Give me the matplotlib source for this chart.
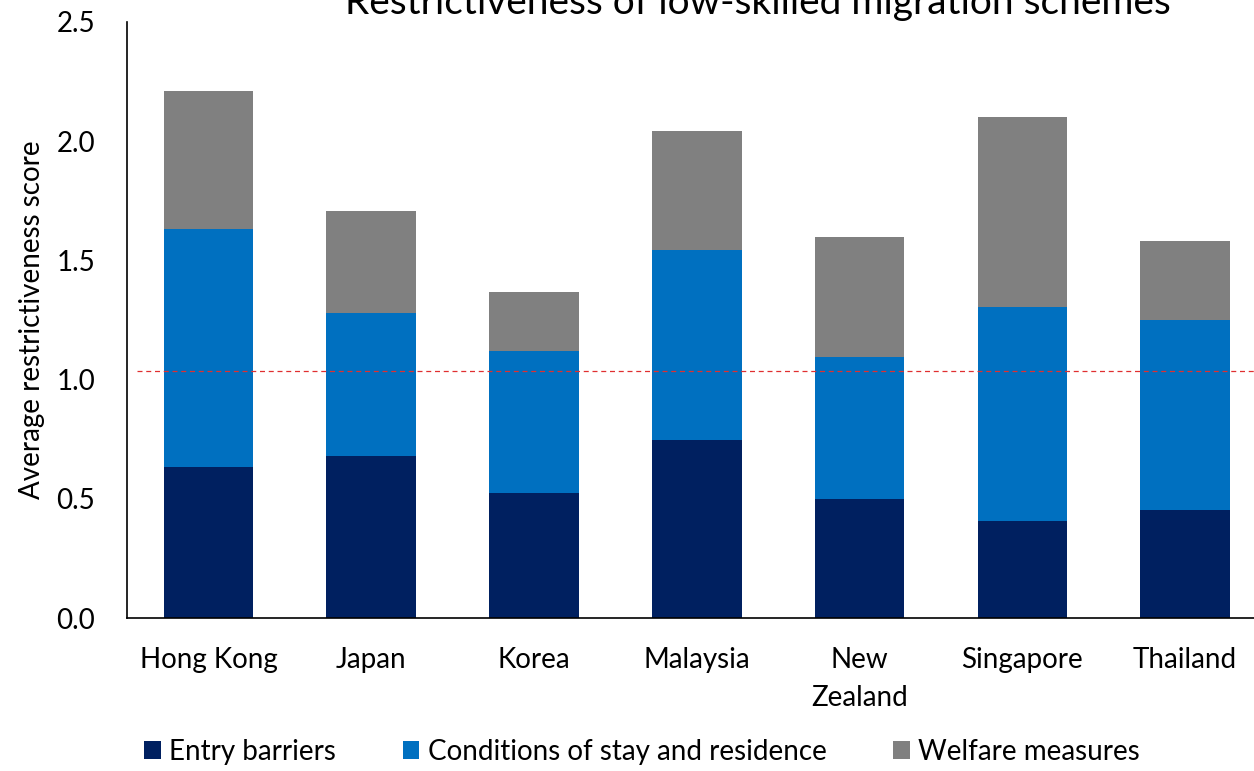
import matplotlib.pyplot as plt
import numpy as np

plt.rcParams['font.family'] = ['Lato', 'DejaVu Sans']

# data
countries = ["Hong Kong", "Japan", "Korea", "Malaysia", "New\nZealand", "Singapore", "Thailand"]
entry = [0.633, 0.680, 0.524, 0.747, 0.500, 0.407, 0.453]
conditions = [1.000, 0.600, 0.596, 0.797, 0.595, 0.898, 0.797]
welfare = [0.578, 0.427, 0.247, 0.499, 0.503, 0.795, 0.331]
average = 1.036

fig = plt.figure(figsize=(12.54, 7.71), dpi=100)
ax = fig.add_axes([0.1013, 0.1984, 0.9087, 0.7731])

x = np.arange(len(countries))
w = 0.55
entry_a = np.array(entry)
cond_a = np.array(conditions)
welf_a = np.array(welfare)

ax.bar(x, entry_a, width=w, color="#002060", label="Entry barriers")
ax.bar(x, cond_a, width=w, bottom=entry_a, color="#0070C0", label="Conditions of stay and residence")
ax.bar(x, welf_a, width=w, bottom=entry_a + cond_a, color="#808080", label="Welfare measures")

# average line
ax.plot([-0.44, 6.5], [average, average], color="#E03030", linestyle=(0, (4, 3)), linewidth=0.9)

ax.set_xlim(-0.5, 6.5)
ax.set_ylim(0, 2.5)
ax.set_yticks(np.arange(0, 2.51, 0.5))
ax.set_yticklabels(["%.1f" % v for v in np.arange(0, 2.51, 0.5)], fontsize=20)
ax.set_xticks(x)
ax.set_xticklabels(countries, fontsize=20, linespacing=1.55)
ax.tick_params(axis="both", length=0)
ax.tick_params(axis="x", pad=21)
ax.tick_params(axis="y", pad=23)
for s in ["top", "right"]:
    ax.spines[s].set_visible(False)
ax.spines["left"].set_linewidth(1.2)
ax.spines["bottom"].set_linewidth(1.2)
ax.set_ylabel("Average restrictiveness score", fontsize=20, labelpad=8)

fig.text(0.604, 1 - 14 / 771, "Restrictiveness of low-skilled migration schemes",
         ha="center", va="baseline", fontsize=28)

fig.legend(loc="lower left", bbox_to_anchor=(0.095, -0.024), ncol=3, frameon=False,
           fontsize=20, handlelength=0.6, handleheight=0.6, handletextpad=0.3,
           columnspacing=2.4)

fig.savefig("out.png", dpi=100)
